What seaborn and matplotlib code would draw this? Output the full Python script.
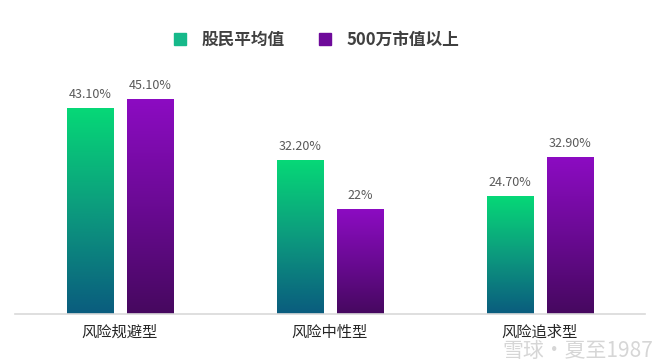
import numpy as np
import pandas as pd
import matplotlib
matplotlib.use("Agg")
import matplotlib.pyplot as plt
from matplotlib.colors import LinearSegmentedColormap
from matplotlib.lines import Line2D
import seaborn as sns

# --- data ---
categories = ["风险规避型", "风险中性型", "风险追求型"]
series_names = ["股民平均值", "500万市值以上"]
avg_values = [43.1, 32.2, 24.7]
rich_values = [45.1, 22.0, 32.9]
avg_labels = ["43.10%", "32.20%", "24.70%"]
rich_labels = ["45.10%", "22%", "32.90%"]

df = pd.DataFrame({
    "type": categories * 2,
    "group": [series_names[0]] * 3 + [series_names[1]] * 3,
    "value": avg_values + rich_values,
})

# --- style ---
sns.set_theme(style="white")
plt.rcParams["font.family"] = ["Noto Sans CJK SC", "DejaVu Sans"]

green_grad = LinearSegmentedColormap.from_list("g", ["#0a5c7e", "#0d9a7e", "#06d877"])
purple_grad = LinearSegmentedColormap.from_list("p", ["#46085f", "#6a0a93", "#8c0cc2"])
legend_colors = ["#16b98a", "#6e0a9a"]

fig = plt.figure(figsize=(6.6, 3.63), dpi=100)
ax = fig.add_axes([15 / 660, 49 / 363, 630 / 660, 262 / 363])

sns.barplot(data=df, x="type", y="value", hue="group", hue_order=series_names,
            width=0.567, gap=0.227, palette=legend_colors, legend=False, ax=ax)

# --- gradient fill, value labels ---
bars = list(ax.patches)
labels = avg_labels + rich_labels
grad = np.linspace(0, 1, 256).reshape(-1, 1)
for i, bar in enumerate(bars):
    x, w, h = bar.get_x(), bar.get_width(), bar.get_height()
    cmap = green_grad if i < 3 else purple_grad
    ax.imshow(grad, extent=[x, x + w, 0, h], origin="lower", aspect="auto",
              cmap=cmap, zorder=2)
    bar.set_facecolor("none")
    bar.set_edgecolor("none")
    ax.text(x + w / 2, h + 1.6, labels[i], ha="center", va="bottom",
            fontsize=9, color="#595959")
ax.set_xlim(-0.5, 2.5)
ax.set_ylim(0, 55)

# --- axes cleanup ---
for s in ["top", "right", "left"]:
    ax.spines[s].set_visible(False)
ax.spines["bottom"].set_color("#d9d9d9")
ax.spines["bottom"].set_linewidth(1.2)
ax.set_yticks([])
ax.set_xlabel("")
ax.set_ylabel("")
ax.tick_params(axis="x", length=0, pad=7, labelsize=11, labelcolor="#262626")

# --- legend ---
handles = [Line2D([], [], marker="s", linestyle="none", markersize=9,
                  markerfacecolor=c, markeredgecolor=c) for c in legend_colors]
fig.legend(handles, series_names, loc="center", bbox_to_anchor=(0.472, 0.89),
           ncol=2, frameon=False, handletextpad=0.3, columnspacing=1.4,
           labelcolor="#404040", prop={"size": 12, "weight": "bold"})

# --- watermark ---
fig.text(0.99, 0.033, "雪球·夏至1987", ha="right", va="center", fontsize=15,
         color="#cccccc", alpha=0.8)

fig.savefig("out.png", dpi=100)
